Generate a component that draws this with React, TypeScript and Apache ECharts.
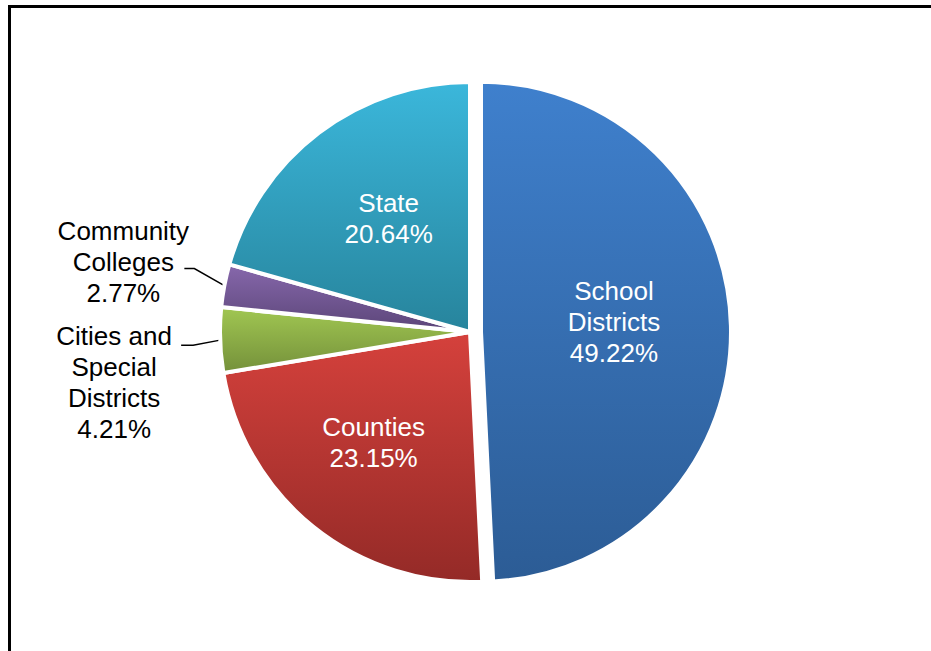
import React, { useEffect, useRef } from 'react';
import * as echarts from 'echarts';

const categories = ['School\nDistricts', 'Counties', 'Cities and\nSpecial\nDistricts', 'Community\nColleges', 'State'];
const values = [49.22, 23.15, 4.21, 2.77, 20.64];

const colorTop = ['#3f80cd', '#d5413c', '#a1c752', '#8768ac', '#3bb7db'];
const colorBottom = ['#2c5c95', '#942a27', '#74903a', '#5b4578', '#27849c'];
const outsideIdx = [2, 3];

const FONT = "'Liberation Sans', Arial, sans-serif";

export default function App() {
  const ref = useRef<HTMLDivElement>(null);
  useEffect(() => {
    if (!ref.current) return;
    const chart = echarts.init(ref.current, undefined, { renderer: 'svg' });
    const data = categories.map((name, i) => ({
      name,
      value: values[i],
      selected: i === 0,
      itemStyle: {
        color: new echarts.graphic.LinearGradient(0, 0, 0, 1, [
          { offset: 0, color: colorTop[i] },
          { offset: 1, color: colorBottom[i] },
        ]),
      },
      label: outsideIdx.includes(i)
        ? { position: 'outside', color: '#000' }
        : { position: 'inside', color: '#fff' },
      labelLine: { show: outsideIdx.includes(i) },
    }));
    const insideShift: Record<number, [number, number]> = {
      0: [5, -7],
      1: [-16, 11],
      4: [-4, -11],
    };
    chart.setOption({
      animation: false,
      graphic: [
        {
          type: 'rect',
          shape: { x: 9.5, y: 6.5, width: 960, height: 700 },
          style: { fill: 'none', stroke: '#000', lineWidth: 3 },
          silent: true,
        },
      ],
      series: [
        {
          type: 'pie',
          center: [470, 332],
          radius: 250,
          startAngle: 90,
          clockwise: true,
          avoidLabelOverlap: false,
          selectedMode: 'single',
          selectedOffset: 11,
          emphasis: { disabled: true },
          itemStyle: { borderColor: '#fff', borderWidth: 4 },
          label: {
            formatter: '{b}\n{c}%',
            fontFamily: FONT,
            fontSize: 26,
            lineHeight: 31,
            align: 'center',
          },
          labelLine: {
            lineStyle: { color: '#000', width: 1.5 },
            length: 15,
            length2: 10,
          },
          labelLayout: (p: any) => {
            const i = p.dataIndex;
            if (insideShift[i]) {
              return { dx: insideShift[i][0], dy: insideShift[i][1] };
            }
            const pts = p.labelLinePoints;
            if (!pts) return {};
            const s = pts[0];
            if (i === 3) {
              const b = [s[0] - 30, s[1] - 17];
              const e = [b[0] - 10, b[1]];
              return {
                x: s[0] - 101,
                y: s[1] - 24,
                align: 'center',
                verticalAlign: 'middle',
                labelLinePoints: [s, b, e],
              };
            }
            if (i === 2) {
              const b = [s[0] - 27, s[1] + 5];
              const e = [b[0] - 12, b[1]];
              return {
                x: s[0] - 106,
                y: s[1] + 42,
                align: 'center',
                verticalAlign: 'middle',
                labelLinePoints: [s, b, e],
              };
            }
            return {};
          },
          data,
        },
      ],
    });
    return () => chart.dispose();
  }, []);
  return (
    <div
      ref={ref}
      style={{ position: 'fixed', left: 0, top: 0, width: 931, height: 651, background: '#fff' }}
    />
  );
}
